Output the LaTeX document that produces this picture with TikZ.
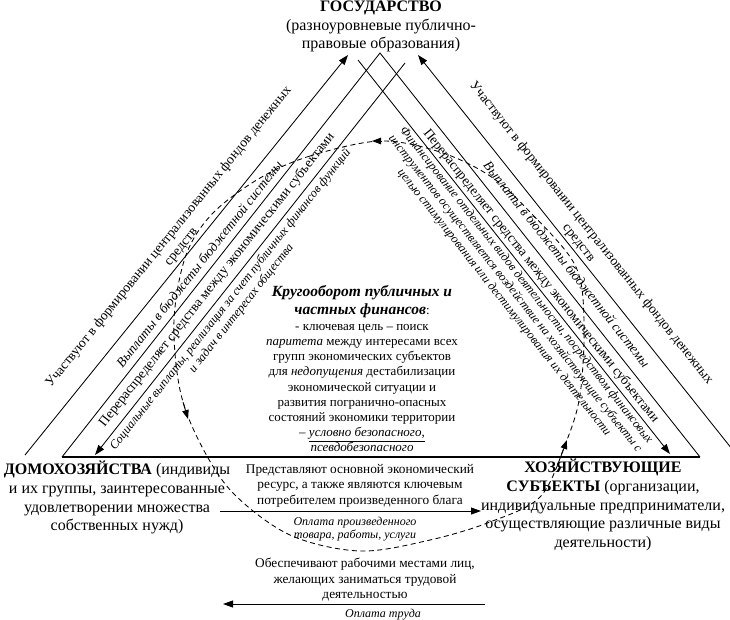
\documentclass[tikz,border=0pt]{standalone}
\usepackage{fontspec}
\setmainfont{Liberation Serif}
\usetikzlibrary{arrows.meta,calc}
\begin{document}
\begin{tikzpicture}[x=1pt,y=-1pt,
  ln/.style={line width=0.85pt},
  base/.style={line width=1.3pt},
  arr/.style={line width=0.85pt,-{Triangle[length=10pt,width=7pt]}},
  dsh/.style={line width=0.85pt,dash pattern=on 5pt off 3.5pt},
  dtip/.style={line width=0.85pt,-{Triangle[length=9pt,width=6.5pt]}},
  txt/.style={inner sep=0pt,align=center},
  big/.style={txt,font=\fontsize{16}{18.6}\selectfont},
  rlab/.style={txt,font=\fontsize{13.6}{16}\selectfont},
  ilab/.style={txt,font=\itshape\fontsize{12.3}{14}\selectfont},
  vlab/.style={txt,font=\itshape\fontsize{13.5}{15}\selectfont},
  mid/.style={txt,font=\fontsize{13}{15.2}\selectfont},
  bot/.style={txt,font=\fontsize{13.3}{15.5}\selectfont},
  boti/.style={txt,font=\itshape\fontsize{12}{13}\selectfont}
]
\useasboundingbox (0,0) rectangle (730,619);

% ---- key points
\coordinate (OL1) at (25,455);  \coordinate (OL2) at (348,55);
\coordinate (OR1) at (732,449); \coordinate (OR2) at (418,55);
\coordinate (TL) at (62,457);   \coordinate (AP) at (380,53);  \coordinate (TR) at (700,457);
\coordinate (IL1) at (405,63);  \coordinate (IL2) at (95,455);
\coordinate (IR1) at (358,60);  \coordinate (IR2) at (670,454);

% ---- main texts
\node[big,anchor=north] (gos) at (381,1)
  {\textbf{ГОСУДАРСТВО}\\(разноуровневые публично-\\правовые образования)};
\node[big,anchor=north] (dom) at (117,461)
  {\textbf{ДОМОХОЗЯЙСТВА} (индивиды\\и их группы, заинтересованные\\удовлетворении множества\\собственных нужд)};
\node[big,anchor=north] (hoz) at (603,459)
  {\textbf{ХОЗЯЙСТВУЮЩИЕ}\\\textbf{СУБЪЕКТЫ} (организации,\\индивидуальные предприниматели,\\осуществляющие различные виды\\деятельности)};

% ---- triangle and long arrows
\draw[ln] (TL) -- (AP) -- (TR);
\draw[base] (TL) -- (TR);
\draw[arr] (OL1) -- (OL2);
\draw[arr] (OR1) -- (OR2);
\draw[arr] (IL1) -- (IL2);
\draw[arr] (IR1) -- (IR2);

% ---- rotated labels
\node[rlab,rotate=51.08] (uL) at (175,242)
  {Участвуют в формировании централизованных фондов денежных\\средств};
\node[rlab,rotate=-51.48] (uR) at (585,238)
  {Участвуют в формировании централизованных фондов денежных\\средств};
\node[vlab,rotate=51.65] (vL) at (199,264) {Выплаты в бюджеты бюджетной системы};
\node[vlab,rotate=-51.55] (vR) at (567,264) {Выплаты в бюджеты бюджетной системы};
\node[rlab,rotate=51.65] (pL) at (217,280)
  {Перераспределяет средства между экономическими субъектами};
\node[rlab,rotate=-51.55] (pR) at (541,276)
  {Перераспределяет средства между экономическими субъектами};
\node[ilab,rotate=51.66] (sL) at (236,304)
  {Социальные выплаты, реализация за счет публичных финансов функций\\и задач в интересах общества};
\node[ilab,rotate=-51.63] (fR) at (515,294)
  {Финансирование отдельных видов деятельности, посредством финансовых\\инструментов осуществляется воздействие на хозяйствующие субъекты с\\целью стимулирования или дестимулирования их деятельности};

% ---- centre text
\node[mid,anchor=north] (krug) at (362,285)
  {{\fontsize{15.5}{17}\selectfont\bfseries\itshape Кругооборот публичных и}\\[2.5pt]
   {\fontsize{15.5}{17}\selectfont\bfseries\itshape частных финансов}:\\[1pt]
   - ключевая цель – поиск\\
   \textit{паритета} между интересами всех\\
   групп экономических субъектов\\
   для \textit{недопущения} дестабилизации\\
   экономической ситуации и\\
   развития погранично-опасных\\
   состояний экономики территории\\
   – \underline{\textit{условно безопасного,}}\\
   \textit{псевдобезопасного}};

% ---- bottom exchanges
\node[bot,anchor=north] (t1) at (360,464)
  {Представляют основной экономический\\ресурс, а также являются ключевым\\потребителем произведенного блага};
\coordinate (b1s) at (220,511); \coordinate (b1e) at (481,511);
\draw[arr] (b1s) -- (b1e);
\node[boti,anchor=north] (t1i) at (355,517) {Оплата произведенного\\товара, работы, услуги};
\node[bot,anchor=north] (t2) at (365,558)
  {Обеспечивают рабочими местами лиц,\\желающих заниматься трудовой\\деятельностью};
\coordinate (b2s) at (485,604); \coordinate (b2e) at (223,604);
\draw[arr] (b2s) -- (b2e);
\node[boti,anchor=north] (t2i) at (383,609) {Оплата труда};

% ---- dashed circulation loop
\draw[dsh] plot[smooth cycle, tension=0.55] coordinates {
  (380,141) (310,156) (260,178) (213,213) (186,255) (174,320) (180,390)
  (200,443) (233,493) (290,535) (360,551) (430,540) (490,522) (540,497)
  (565,445) (580,395) (584,320) (575,265) (530,212) (490,176) (440,152)};
\coordinate (d1a) at (382,141); \coordinate (d1b) at (372,141);
\coordinate (d2a) at (183,402); \coordinate (d2b) at (188,419);
\coordinate (d3a) at (561,456); \coordinate (d3b) at (567,440);
\draw[dtip] (d1a) -- (d1b);
\draw[dtip] (d2a) -- (d2b);
\draw[dtip] (d3a) -- (d3b);
\end{tikzpicture}
\end{document}
